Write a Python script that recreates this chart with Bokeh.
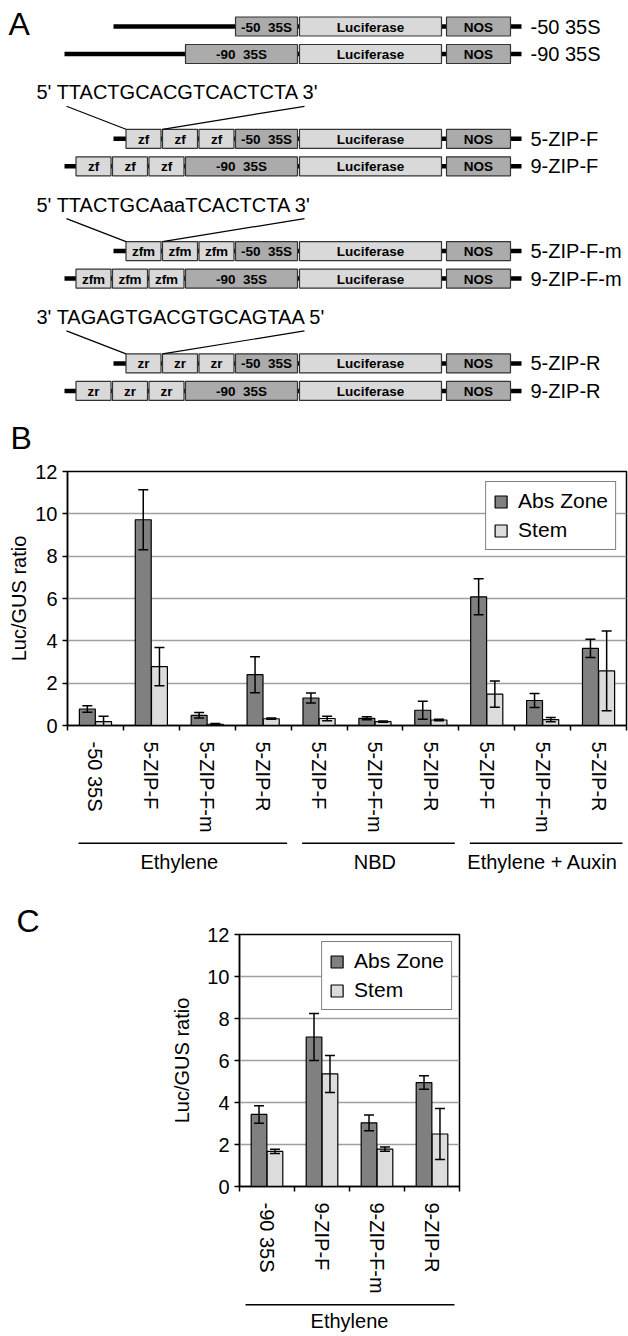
import numpy as np
from bokeh.plotting import figure
from bokeh.models import Range1d, FixedTicker, ColumnDataSource
from bokeh.core.properties import value
from bokeh.embed import file_html
from bokeh.resources import INLINE

FONT = "Liberation Sans"

# ---------------- data: panel A (constructs) ----------------
construct_names = ["-50 35S", "-90 35S", "5-ZIP-F", "9-ZIP-F",
                   "5-ZIP-F-m", "9-ZIP-F-m", "5-ZIP-R", "9-ZIP-R"]
repeat_labels = ["", "", "zf", "zf", "zfm", "zfm", "zr", "zr"]
repeat_counts = [0, 0, 3, 3, 3, 3, 3, 3]
promoter_labels = ["-50\u00a0 35S", "-90\u00a0 35S"] * 4
reporter_label = "Luciferase"
terminator_label = "NOS"
sequences = ["5' TTACTGCACGTCACTCTA 3'",
             "5' TTACTGCAaaTCACTCTA 3'",
             "3' TAGAGTGACGTGCAGTAA 5'"]
panel_letters = ["A", "B", "C"]

# ---------------- data: panel B ----------------
b_categories = ["-50 35S", "5-ZIP-F", "5-ZIP-F-m", "5-ZIP-R",
                "5-ZIP-F", "5-ZIP-F-m", "5-ZIP-R",
                "5-ZIP-F", "5-ZIP-F-m", "5-ZIP-R"]
b_groups = ["Ethylene", "NBD", "Ethylene + Auxin"]
b_group_sizes = [4, 3, 3]
b_abs = [0.78, 9.72, 0.48, 2.40, 1.30, 0.34, 0.72, 6.08, 1.18, 3.64]
b_abs_err = [0.15, 1.42, 0.13, 0.85, 0.24, 0.07, 0.42, 0.85, 0.33, 0.43]
b_stem = [0.18, 2.78, 0.06, 0.32, 0.33, 0.18, 0.26, 1.48, 0.28, 2.58]
b_stem_err = [0.26, 0.90, 0.03, 0.03, 0.11, 0.03, 0.03, 0.62, 0.10, 1.88]

# ---------------- data: panel C ----------------
c_categories = ["-90 35S", "9-ZIP-F", "9-ZIP-F-m", "9-ZIP-R"]
c_groups = ["Ethylene"]
c_group_sizes = [4]
c_abs = [3.43, 7.12, 3.03, 4.95]
c_abs_err = [0.42, 1.12, 0.37, 0.32]
c_stem = [1.67, 5.36, 1.78, 2.50]
c_stem_err = [0.10, 0.88, 0.10, 1.22]

series_names = ["Abs Zone", "Stem"]
y_ticks = [0, 2, 4, 6, 8, 10, 12]
y_grid = [2, 4, 6, 8, 10]

# ---------------- styles ----------------
DARK_BOX = "#ababab"
LIGHT_BOX = "#d9d9d9"
BOX_LINE = "#333333"
ABS_FILL = "#808080"
STEM_FILL = "#dcdcdc"
GRID = "#a0a0a0"
PAGE_W = 628


def bare_figure(height, x_range, y_range, bl=0, br=0):
    f = figure(width=PAGE_W, height=height, x_range=x_range, y_range=y_range,
               output_backend="svg", toolbar_location=None,
               x_axis_location=None, y_axis_location=None,
               min_border_left=bl, min_border_right=br, min_border_top=0, min_border_bottom=0)
    f.grid.visible = False
    f.outline_line_color = None
    f.background_fill_color = "white"
    f.border_fill_color = "white"
    return f


# ================= panel A (page pixel coordinates 0..458) =================
ROW0_Y, GROUP_DY, PAIR_DY = 26.0, 112.3, 27.5
BOX_H = 19
LINE_START = {0: 113, 1: 64}
TAIL_X = 521
LUC_L, LUC_R = 299, 441
NOS_L, NOS_R = 446, 510
PROM_R = 297
PROM_W = {0: 62, 1: 112}
ZF_W, ZF_GAP = 35, 1.5

pA = bare_figure(458, Range1d(0, PAGE_W), Range1d(458, 0))

bx = dict(l=[], r=[], t=[], b=[], fill=[], txt=[], cx=[], cy=[])
bb = dict(x0=[], x1=[], y=[])
lab = dict(x=[], y=[], txt=[])
seq = dict(x=[], y=[], txt=[])
ld = dict(x0=[], y0=[], x1=[], y1=[])


def add_box(l, r, y, fill, txt):
    bx["l"].append(l); bx["r"].append(r)
    bx["t"].append(y - BOX_H / 2); bx["b"].append(y + BOX_H / 2)
    bx["fill"].append(fill); bx["txt"].append(txt)
    bx["cx"].append((l + r) / 2); bx["cy"].append(y + 0.5)


for i, name in enumerate(construct_names):
    g, sub = divmod(i, 2)
    y = ROW0_Y + g * GROUP_DY + sub * PAIR_DY
    prom_l = PROM_R - PROM_W[sub]
    bb["x0"].append(LINE_START[sub]); bb["x1"].append(TAIL_X); bb["y"].append(y)
    lefts = []
    for k in range(repeat_counts[i]):
        r = prom_l - ZF_GAP - k * (ZF_W + ZF_GAP)
        add_box(r - ZF_W, r, y, LIGHT_BOX, repeat_labels[i])
        lefts.append(r - ZF_W)
    add_box(prom_l, PROM_R, y, DARK_BOX, promoter_labels[i])
    add_box(LUC_L, LUC_R, y, LIGHT_BOX, reporter_label)
    add_box(NOS_L, NOS_R, y, DARK_BOX, terminator_label)
    lab["x"].append(530); lab["y"].append(y); lab["txt"].append(name)
    if sub == 0 and repeat_counts[i] > 0:
        sy = y - 46.5
        seq["x"].append(36); seq["y"].append(sy); seq["txt"].append(sequences[g - 1])
        top = y - BOX_H / 2
        ld["x0"] += [66, 304]; ld["y0"] += [sy + 14, sy + 14]
        ld["x1"] += [lefts[-1], lefts[-2]]; ld["y1"] += [top, top]

pA.segment(x0="x0", y0="y", x1="x1", y1="y", source=ColumnDataSource(bb),
           line_color="black", line_width=4.5, line_cap="butt")
pA.quad(left="l", right="r", top="t", bottom="b", fill_color="fill", source=ColumnDataSource(bx),
        line_color=BOX_LINE, line_width=1.2)
pA.text(x="cx", y="cy", text="txt", source=ColumnDataSource(bx), text_align="center",
        text_baseline="middle", text_font=value(FONT), text_font_style="bold",
        text_font_size=value("13.5px"), text_color="black")
pA.text(x="x", y="y", text="txt", source=ColumnDataSource(lab), text_align="left",
        text_baseline="middle", text_font=value(FONT), text_font_size=value("20px"),
        text_color="black")
pA.text(x="x", y="y", text="txt", source=ColumnDataSource(seq), text_align="left",
        text_baseline="middle", text_font=value(FONT), text_font_size=value("20px"),
        text_color="black")
pA.segment(x0="x0", y0="y0", x1="x1", y1="y1", source=ColumnDataSource(ld),
           line_color="black", line_width=1.2)
pA.text(x=[8, 10], y=[23.5, 437.5], text=panel_letters[:2], text_align="left",
        text_baseline="middle", text_font=value(FONT), text_font_size=value("32px"),
        text_color="black")


# ================= bar panels =================
def bar_panel(cats, abs_v, abs_e, stem_v, stem_e, height, bl, br, bt, bb_,
              ylab_standoff, leg_margin):
    n = len(cats)
    fw = PAGE_W - bl - br
    ppx = fw / n
    xr = Range1d(-0.5, n - 0.5)
    p = figure(width=PAGE_W, height=height, x_range=xr,
               y_range=Range1d(y_ticks[0], y_ticks[-1]), output_backend="svg",
               toolbar_location=None, min_border_left=bl, min_border_right=br,
               min_border_top=bt, min_border_bottom=bb_)
    p.background_fill_color = "white"
    p.border_fill_color = "white"
    p.outline_line_color = "black"
    p.outline_line_width = 1.5
    p.xgrid.visible = False
    p.ygrid.ticker = FixedTicker(ticks=y_grid)
    p.ygrid.grid_line_color = GRID
    p.ygrid.grid_line_width = 1.5

    x = np.arange(n)
    off, bw = 0.145, 0.285
    src = ColumnDataSource(dict(xa=x - off, xs=x + off, a=abs_v, s=stem_v))
    p.vbar(x="xa", top="a", bottom=0, width=bw, source=src, fill_color=ABS_FILL,
           line_color="black", line_width=1.2, legend_label=series_names[0])
    p.vbar(x="xs", top="s", bottom=0, width=bw, source=src, fill_color=STEM_FILL,
           line_color="black", line_width=1.2, legend_label=series_names[1])
    cap = 5.0 / ppx
    for xs, vals, errs in ((x - off, abs_v, abs_e), (x + off, stem_v, stem_e)):
        v = np.array(vals); e_ = np.array(errs)
        e = ColumnDataSource(dict(x=xs, lo=v - e_, hi=v + e_, l=xs - cap, r=xs + cap))
        p.segment(x0="x", y0="lo", x1="x", y1="hi", source=e, line_color="black", line_width=1.5)
        p.segment(x0="l", y0="hi", x1="r", y1="hi", source=e, line_color="black", line_width=1.5)
        p.segment(x0="l", y0="lo", x1="r", y1="lo", source=e, line_color="black", line_width=1.5)

    ya = p.yaxis[0]
    ya.ticker = FixedTicker(ticks=y_ticks)
    ya.major_tick_out = 5; ya.major_tick_in = 0
    ya.minor_tick_out = 0; ya.minor_tick_in = 0
    ya.major_tick_line_width = 1.5; ya.axis_line_width = 1.5
    ya.major_tick_line_color = "black"; ya.axis_line_color = "black"
    ya.major_label_text_font = FONT; ya.major_label_text_font_size = "20px"
    ya.major_label_text_color = "black"; ya.major_label_standoff = 5
    ya.axis_label = "Luc/GUS ratio"
    ya.axis_label_text_font = FONT; ya.axis_label_text_font_size = "20px"
    ya.axis_label_text_font_style = "normal"; ya.axis_label_text_color = "black"
    ya.axis_label_standoff = ylab_standoff

    xa = p.xaxis[0]
    xa.ticker = FixedTicker(ticks=list(range(n)), minor_ticks=[k - 0.5 for k in range(n + 1)])
    xa.major_label_overrides = {k: c for k, c in enumerate(cats)}
    xa.major_label_orientation = "vertical"
    xa.major_tick_out = 0; xa.major_tick_in = 0
    xa.minor_tick_out = 5; xa.minor_tick_in = 0
    xa.minor_tick_line_color = "black"; xa.minor_tick_line_width = 1.5
    xa.axis_line_width = 1.5; xa.axis_line_color = "black"
    xa.major_label_text_font = FONT; xa.major_label_text_font_size = "20px"
    xa.major_label_text_color = "black"; xa.major_label_standoff = 11

    lg = p.legend[0]
    lg.location = "top_right"
    lg.margin = leg_margin
    lg.border_line_color = "black"; lg.border_line_width = 1.5
    lg.background_fill_color = "white"; lg.background_fill_alpha = 1.0
    lg.label_text_font = FONT; lg.label_text_font_size = "21px"
    lg.label_text_color = "black"
    lg.glyph_width = 15; lg.glyph_height = 15
    lg.label_standoff = 10; lg.padding = 7; lg.spacing = 5
    lg.label_height = 22
    return p, xr, ppx


def group_panel(xr, ppx, bl, br, top_ref, bottom_ref, groups, gsizes,
                line_y, label_y, inset_l, inset_r):
    g = bare_figure(bottom_ref - top_ref, xr, Range1d(bottom_ref, top_ref), bl, br)
    starts = np.cumsum([0] + gsizes[:-1])
    left = np.array(starts) - 0.5
    right = left + np.array(gsizes)
    g.segment(x0=left + inset_l / ppx, x1=right - inset_r / ppx, y0=[line_y] * len(groups),
              y1=[line_y] * len(groups), line_color="black", line_width=1.5)
    g.text(x=(left + right) / 2, y=[label_y] * len(groups), text=groups, text_align="center",
           text_baseline="middle", text_font=value(FONT), text_font_size=value("20px"),
           text_color="black")
    return g


# panel B: frame 471..725, figure 458..838
pB, xrB, ppxB = bar_panel(b_categories, b_abs, b_abs_err, b_stem, b_stem_err,
                          height=380, bl=67, br=2, bt=13, bb_=113, ylab_standoff=2, leg_margin=10)
pG = group_panel(xrB, ppxB, 67, 2, 838, 895, b_groups, b_group_sizes,
                 line_y=842.7, label_y=861, inset_l=11, inset_r=4)

# panel C: frame 934..1186, figure 895..1298
pC, xrC, ppxC = bar_panel(c_categories, c_abs, c_abs_err, c_stem, c_stem_err,
                          height=403, bl=239, br=169, bt=39, bb_=112, ylab_standoff=11, leg_margin=7)
pC.title.text = panel_letters[2]
pC.title.align = "left"
pC.title.offset = 16 - 239
pC.title.standoff = -8
pC.title.vertical_align = "bottom"
pC.title.text_font = FONT
pC.title.text_font_size = "32px"
pC.title.text_font_style = "normal"
pC.title.text_color = "black"
pH = group_panel(xrC, ppxC, 239, 169, 1298, 1334, c_groups, c_group_sizes,
                 line_y=1304.3, label_y=1320.5, inset_l=6, inset_r=5)

p = [pA, pB, pG, pC, pH]
open("out.html", "w").write(file_html(p, INLINE))
